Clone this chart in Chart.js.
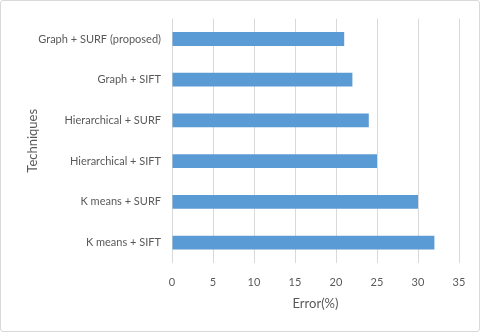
<!DOCTYPE html>
<html><head><meta charset="utf-8">
<script src="https://cdn.jsdelivr.net/npm/chart.js@4/dist/chart.umd.min.js"></script>
<style>
html,body{margin:0;padding:0;background:#fff;}
#wrap{position:relative;width:480px;height:332px;box-sizing:border-box;border:1px solid #d9d9d9;border-radius:3px;}
canvas{display:block;}
</style></head>
<body>
<div id="wrap"><canvas id="c" width="478" height="330"></canvas></div>
<script>
const categories = ["Graph + SURF (proposed)","Graph + SIFT","Hierarchical + SURF","Hierarchical + SIFT","K means + SURF","K means + SIFT"];
const errorValues = [21, 22, 24, 25, 30, 32];
const xTicks = [0,5,10,15,20,25,30,35];

new Chart(document.getElementById('c'), {
  type: 'bar',
  data: { labels: categories, datasets: [{ data: errorValues, backgroundColor: '#5b9bd5', borderWidth: 0, categoryPercentage: 0.68, barPercentage: 0.5 }] },
  options: {
    indexAxis: 'y', responsive: false, animation: false,
    layout: { padding: { left: 20, top: 16, right: 20, bottom: 15 } },
    plugins: { legend: { display: false }, tooltip: { enabled: false } },
    scales: {
      x: {
        min: 0, max: 35,
        afterBuildTicks: s => { s.ticks = xTicks.map(v => ({value: v})); },
        grid: { color: '#d9d9d9', drawTicks: false },
        border: { display: false },
        ticks: { color: '#595959', font: { family: 'Lato', size: 11 }, padding: 13 },
        title: { display: true, text: 'Error(%)', color: '#595959', font: { family: 'Lato', size: 13 }, padding: { top: 4 } },
        afterFit: s => { s.height = 53; }
      },
      y: {
        grid: { display: false, drawTicks: false },
        border: { display: false },
        ticks: { color: '#595959', font: { family: 'Lato', size: 11 }, padding: 11 },
        title: { display: true, text: 'Techniques', color: '#595959', font: { family: 'Lato', size: 13 }, padding: { bottom: 4 } },
        afterFit: s => { s.width = 151; }
      }
    }
  }
});
</script>
</body></html>
